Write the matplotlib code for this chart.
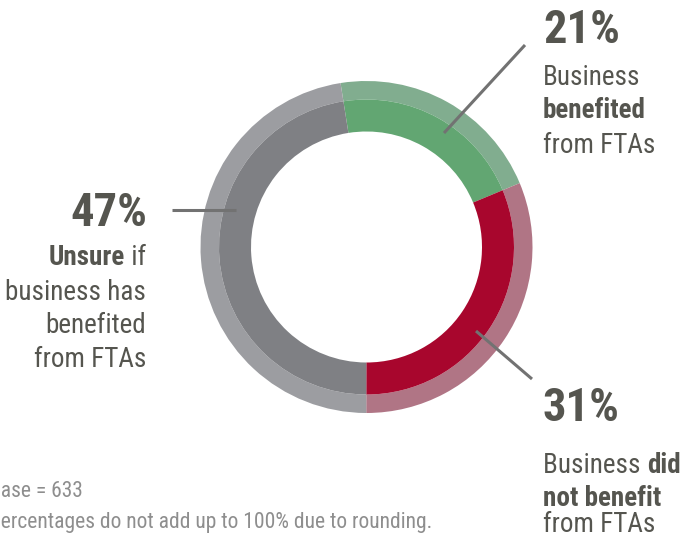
import matplotlib
matplotlib.use("Agg")
import matplotlib.pyplot as plt
from matplotlib import font_manager

categories = ["Business benefited from FTAs", "Business did not benefit from FTAs", "Unsure if business has benefited from FTAs"]
values = [21, 31, 47]
pct_labels = ["21%", "31%", "47%"]
inner_colors = ["#62A672", "#A8062D", "#7F8084"]
outer_colors = ["#81AD8F", "#B07585", "#9C9DA1"]
footnotes = ["Base = 633", "Percentages do not add up to 100% due to rounding."]

W, H = 690, 537
avail = {f.name for f in font_manager.fontManager.ttflist}
FAM = [f for f in ["Roboto Condensed", "Liberation Sans Narrow", "Open Sans Condensed", "Liberation Sans", "DejaVu Sans"] if f in avail]

fig = plt.figure(figsize=(W / 100, H / 100), dpi=100)
ax = fig.add_axes([0, 0, 1, 1])

cx, cy = 366.5, H - 247
R_out, R_mid, R_in = 166, 147.5, 115.5
ax.pie(values, radius=R_out, center=(cx, cy), startangle=99, counterclock=False,
       colors=outer_colors, wedgeprops=dict(width=R_out - R_mid, linewidth=0))
ax.pie(values, radius=R_mid, center=(cx, cy), startangle=99, counterclock=False,
       colors=inner_colors, wedgeprops=dict(width=R_mid - R_in, linewidth=0))
ax.set_xlim(0, W)
ax.set_ylim(0, H)
ax.set_aspect("equal")
ax.axis("off")

def Y(y):
    return H - y

TXT = "#55554F"
LINE = "#727272"
lw = 2.2
ax.plot([444, 525], [Y(133), Y(45)], color=LINE, lw=lw, solid_capstyle="butt")
ax.plot([476, 532], [Y(331), Y(379)], color=LINE, lw=lw, solid_capstyle="butt")
ax.plot([172, 236], [Y(210), Y(210)], color=LINE, lw=lw, solid_capstyle="butt")

PS = 33.5
BS = 19.5
renderer = fig.canvas.get_renderer()

def width_px(s, size, weight="normal"):
    t = ax.text(0, 0, s, fontsize=size, fontweight=weight, family=FAM)
    w = t.get_window_extent(renderer=renderer).width
    t.remove()
    return w

def txt(x, y, s, size, weight="normal", ha="left", color=TXT):
    ax.text(x, Y(y), s, fontsize=size, fontweight=weight, family=FAM,
            ha=ha, va="baseline", color=color)

# top right: 21%
txt(543, 43, pct_labels[0], PS, "bold")
txt(543, 85, "Business", BS)
txt(543, 118, "benefited", BS, "bold")
txt(543, 153, "from FTAs", BS)

# bottom right: 31%
txt(543, 421, pct_labels[1], PS, "bold")
txt(543, 473, "Business ", BS)
txt(543 + width_px("Business ", BS), 473, "did", BS, "bold")
txt(543, 506, "not benefit", BS, "bold")
txt(543, 532, "from FTAs", BS)

# left: 47%
txt(147, 226, pct_labels[2], PS, "bold", ha="right")
txt(146, 265, " if", BS, ha="right")
txt(146 - width_px(" if", BS), 265, "Unsure", BS, "bold", ha="right")
txt(146, 300, "business has", BS, ha="right")
txt(146, 333, "benefited", BS, ha="right")
txt(146, 367, "from FTAs", BS, ha="right")

# footnotes (clipped at left edge as in the reference)
FS = 15.5
FC = "#8E8E8E"
txt(-width_px("B", FS) + 1, 497, footnotes[0], FS, color=FC)
txt(-width_px("P", FS) + 1, 528, footnotes[1], FS, color=FC)

fig.savefig("out.png", dpi=100)
